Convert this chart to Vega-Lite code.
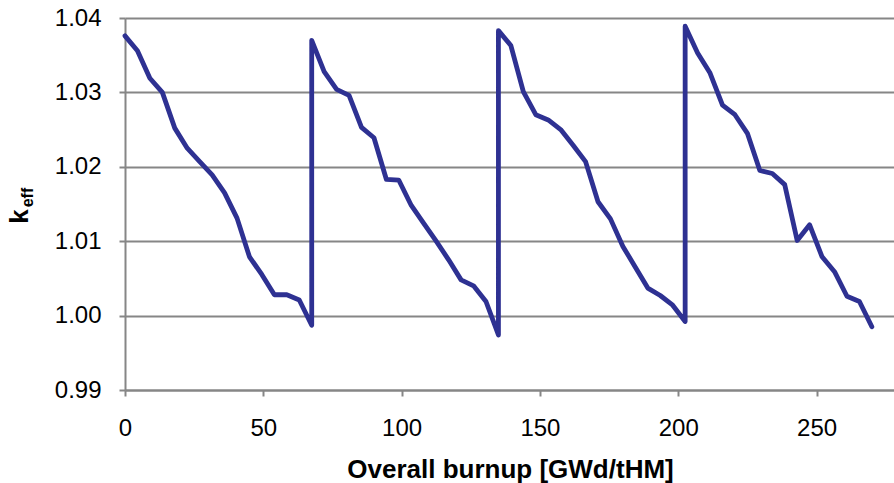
{
  "$schema": "https://vega.github.io/schema/vega-lite/v6.json",
  "autosize": "none",
  "width": 769,
  "height": 372,
  "padding": {"left": 125, "top": 18, "right": 0, "bottom": 93},
  "background": "white",
  "config": {"view": {"stroke": null}, "font": "Liberation Sans"},
  "data": {"values": [
    {"step": 0, "burnup": 0, "keff": 1.0376},
    {"step": 1, "burnup": 4.5, "keff": 1.0356},
    {"step": 2, "burnup": 9, "keff": 1.0319},
    {"step": 3, "burnup": 13.5, "keff": 1.0300},
    {"step": 4, "burnup": 18, "keff": 1.0252},
    {"step": 5, "burnup": 22.5, "keff": 1.0225},
    {"step": 6, "burnup": 27, "keff": 1.0207},
    {"step": 7, "burnup": 31.5, "keff": 1.0189},
    {"step": 8, "burnup": 36, "keff": 1.0165},
    {"step": 9, "burnup": 40.5, "keff": 1.0131},
    {"step": 10, "burnup": 45, "keff": 1.0079},
    {"step": 11, "burnup": 49.5, "keff": 1.0055},
    {"step": 12, "burnup": 54, "keff": 1.0028},
    {"step": 13, "burnup": 58.5, "keff": 1.0028},
    {"step": 14, "burnup": 63, "keff": 1.0021},
    {"step": 15, "burnup": 67.5, "keff": 0.9987},
    {"step": 16, "burnup": 67.5, "keff": 1.0370},
    {"step": 17, "burnup": 72, "keff": 1.0328},
    {"step": 18, "burnup": 76.5, "keff": 1.0304},
    {"step": 19, "burnup": 81, "keff": 1.0296},
    {"step": 20, "burnup": 85.5, "keff": 1.0253},
    {"step": 21, "burnup": 90, "keff": 1.0239},
    {"step": 22, "burnup": 94.5, "keff": 1.0183},
    {"step": 23, "burnup": 99, "keff": 1.0182},
    {"step": 24, "burnup": 103.5, "keff": 1.0148},
    {"step": 25, "burnup": 108, "keff": 1.0124},
    {"step": 26, "burnup": 112.5, "keff": 1.0100},
    {"step": 27, "burnup": 117, "keff": 1.0075},
    {"step": 28, "burnup": 121.5, "keff": 1.0048},
    {"step": 29, "burnup": 126, "keff": 1.0040},
    {"step": 30, "burnup": 130.5, "keff": 1.0019},
    {"step": 31, "burnup": 135, "keff": 0.9974},
    {"step": 32, "burnup": 135, "keff": 1.0383},
    {"step": 33, "burnup": 139.5, "keff": 1.0363},
    {"step": 34, "burnup": 144, "keff": 1.0301},
    {"step": 35, "burnup": 148.5, "keff": 1.0270},
    {"step": 36, "burnup": 153, "keff": 1.0263},
    {"step": 37, "burnup": 157.5, "keff": 1.0250},
    {"step": 38, "burnup": 162, "keff": 1.0229},
    {"step": 39, "burnup": 166.5, "keff": 1.0207},
    {"step": 40, "burnup": 171, "keff": 1.0153},
    {"step": 41, "burnup": 175.5, "keff": 1.0130},
    {"step": 42, "burnup": 180, "keff": 1.0093},
    {"step": 43, "burnup": 184.5, "keff": 1.0065},
    {"step": 44, "burnup": 189, "keff": 1.0037},
    {"step": 45, "burnup": 193.5, "keff": 1.0027},
    {"step": 46, "burnup": 198, "keff": 1.0014},
    {"step": 47, "burnup": 202.5, "keff": 0.9992},
    {"step": 48, "burnup": 202.5, "keff": 1.0389},
    {"step": 49, "burnup": 207, "keff": 1.0353},
    {"step": 50, "burnup": 211.5, "keff": 1.0326},
    {"step": 51, "burnup": 216, "keff": 1.0283},
    {"step": 52, "burnup": 220.5, "keff": 1.0270},
    {"step": 53, "burnup": 225, "keff": 1.0245},
    {"step": 54, "burnup": 229.5, "keff": 1.0195},
    {"step": 55, "burnup": 234, "keff": 1.0191},
    {"step": 56, "burnup": 238.5, "keff": 1.0176},
    {"step": 57, "burnup": 243, "keff": 1.0101},
    {"step": 58, "burnup": 247.5, "keff": 1.0122},
    {"step": 59, "burnup": 252, "keff": 1.0079},
    {"step": 60, "burnup": 256.5, "keff": 1.0059},
    {"step": 61, "burnup": 261, "keff": 1.0026},
    {"step": 62, "burnup": 265.5, "keff": 1.0019},
    {"step": 63, "burnup": 270, "keff": 0.9985}
  ]},
  "layer": [
    {
      "mark": {"type": "line", "color": "#2E3192", "strokeWidth": 4.8, "strokeJoin": "round", "strokeCap": "round", "clip": false},
      "encoding": {
        "x": {"field": "burnup", "type": "quantitative",
          "scale": {"domain": [0, 278], "nice": false, "zero": false},
          "axis": {"values": [0, 50, 100, 150, 200, 250], "grid": false, "labelFlush": false,
            "title": "Overall burnup [GWd/tHM]", "titleFontSize": 26, "titleFontWeight": "bold", "titleColor": "black",
            "titleX": 385, "titleY": 87, "titleAnchor": "middle", "titleAlign": "center", "titleBaseline": "alphabetic",
            "labelFontSize": 24, "labelColor": "black", "labelPadding": 20,
            "domainColor": "#868686", "domainWidth": 2, "tickColor": "#868686", "tickWidth": 2, "tickSize": 6}},
        "y": {"field": "keff", "type": "quantitative",
          "scale": {"domain": [0.99, 1.04], "nice": false, "zero": false},
          "axis": {"values": [0.99, 1.0, 1.01, 1.02, 1.03, 1.04], "format": ".2f", "labelFlush": false,
            "grid": true, "gridColor": "#868686", "gridWidth": 2,
            "title": "k", "titleFontSize": 26, "titleFontWeight": "bold", "titleColor": "black",
            "titleAngle": 270, "titleX": -98, "titleY": 198, "titleAlign": "center", "titleBaseline": "alphabetic",
            "labelFontSize": 24, "labelColor": "black", "labelPadding": 18,
            "domainColor": "#868686", "domainWidth": 2, "tickColor": "#868686", "tickWidth": 2, "tickSize": 6}},
        "order": {"field": "step", "type": "quantitative"}
      }
    },
    {
      "mark": {"type": "rule", "strokeOpacity": 0},
      "encoding": {
        "y": {"datum": 1.0, "type": "quantitative",
          "axis": {"orient": "left", "labels": false, "ticks": false, "domain": false, "grid": false,
            "title": "eff", "titleFontSize": 16, "titleFontWeight": "bold", "titleColor": "black",
            "titleAngle": 270, "titleX": -93, "titleY": 179, "titleAlign": "center", "titleBaseline": "alphabetic"}}
      }
    }
  ],
  "resolve": {"axis": {"y": "independent"}}
}
